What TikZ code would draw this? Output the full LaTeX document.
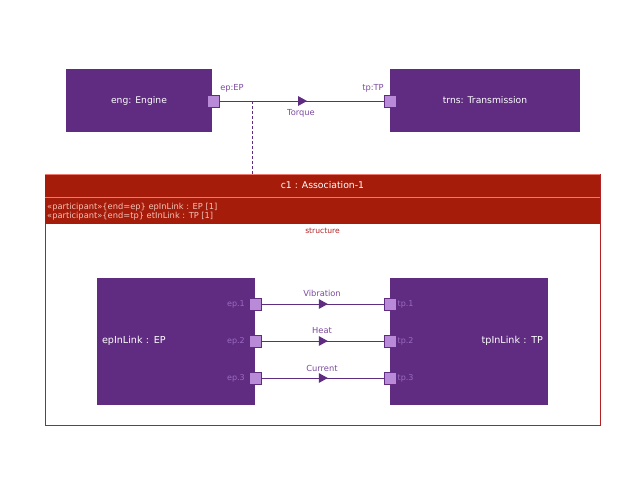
\documentclass[tikz,border=0pt]{standalone}
\usepackage{fontspec}
\setmainfont{DejaVu Sans}
\usetikzlibrary{arrows.meta,decorations.markings}
\definecolor{boxpurple}{HTML}{5F2C82}
\definecolor{portfill}{HTML}{B98AD8}
\definecolor{lblpurple}{HTML}{7B4A9E}
\definecolor{inlbl}{HTML}{9A6CC0}
\definecolor{assocred}{HTML}{A51D0A}
\definecolor{attrtext}{HTML}{F3C2B8}
\definecolor{bordred}{HTML}{B22222}
\definecolor{lightred}{HTML}{F0786E}
\tikzset{
  part/.style={fill=boxpurple,draw=none,text=white,font=\fontsize{9.2}{11}\selectfont,inner sep=0pt},
  port/.style={fill=portfill,draw=boxpurple,line width=0.8pt,minimum size=12pt,inner sep=0pt},
  flow/.style={draw=boxpurple,line width=0.9pt,postaction={decorate},
    decoration={markings,mark=at position 0.5 with {\fill[boxpurple] (-4pt,-5pt) -- (5pt,0) -- (-4pt,5pt) -- cycle;}}},
  lbl/.style={text=lblpurple,font=\fontsize{8.3}{10}\selectfont,inner sep=0pt},
  inl/.style={text=inlbl,font=\fontsize{8}{10}\selectfont,inner sep=0pt},
}
\begin{document}
\begin{tikzpicture}[x=1pt,y=-1pt]
\useasboundingbox (0,0) rectangle (640,495);
% top parts
\node[part,minimum width=146pt,minimum height=63pt] (eng) at (139,100.5) {eng: Engine};
\node[part,minimum width=190pt,minimum height=63pt] (trns) at (485,100.5) {trns: Transmission};
\node[port] (ep) at (213.5,101) {};
\node[port] (tp) at (390.5,101) {};
\path[flow] (ep.east) -- (tp.west);
\node[lbl] (eplbl) at (232,88) {ep:EP};
\node[lbl] (tplbl) at (373,88) {tp:TP};
\node[lbl] (torque) at (301,113) {Torque};
% association
\node[draw=bordred,line width=0.6pt,fill=white,minimum width=555pt,minimum height=251pt,inner sep=0pt] (assoc) at (322.5,299.5) {};
\node[fill=assocred,draw=none,minimum width=555pt,minimum height=23pt,inner sep=0pt,text=white,font=\fontsize{9.3}{11}\selectfont] (title) at (322.5,185.5) {c1 : Association-1};
\draw[lightred,line width=0.6pt] (title.north west) -- (title.north east);
\node[fill=assocred,draw=none,minimum width=555pt,minimum height=26.5pt,inner sep=0pt,anchor=north] (attr) at (title.south) {};
\draw[lightred,line width=0.5pt] (title.south west) -- (title.south east);
\node[text=attrtext,font=\fontsize{8.3}{9}\selectfont,anchor=west,align=left,inner sep=0pt] (attrtxt) at (47,211.5) {«participant»\{end=ep\} epInLink : EP [1]\\«participant»\{end=tp\} etInLink : TP [1]};
\node[text=bordred,font=\fontsize{7.6}{9}\selectfont,inner sep=0pt] (struct) at (322.5,231) {structure};
\coordinate (dashtop) at (252,101);
\coordinate (dashbot) at (252,174);
\draw[boxpurple,line width=0.8pt,dash pattern=on 3pt off 2pt] (dashtop) -- (dashbot);
% inner parts
\node[part,minimum width=158pt,minimum height=127pt,text width=151pt,align=left,font=\fontsize{9.6}{11}\selectfont] (epl) at (176,341) {\hspace*{1.5pt}epInLink : EP};
\node[part,minimum width=158pt,minimum height=127pt,text width=151pt,align=right,font=\fontsize{9.6}{11}\selectfont] (tpl) at (469,341) {tpInLink : TP\hspace*{1.5pt}};
\foreach \i/\y in {1/304,2/341,3/378}{
  \node[port] (ep\i) at (255,\y) {};
  \node[port] (tp\i) at (390.5,\y) {};
  \node[inl,anchor=east] (epn\i) at (245,\y) {ep.\i};
  \node[inl,anchor=west] (tpn\i) at (397.5,\y) {tp.\i};
  \path[flow] (ep\i.east) -- (tp\i.west);
}
\node[lbl] (vib) at (322,293) {Vibration};
\node[lbl] (heat) at (322,330.5) {Heat};
\node[lbl] (cur) at (322,368) {Current};
\end{tikzpicture}
\end{document}
